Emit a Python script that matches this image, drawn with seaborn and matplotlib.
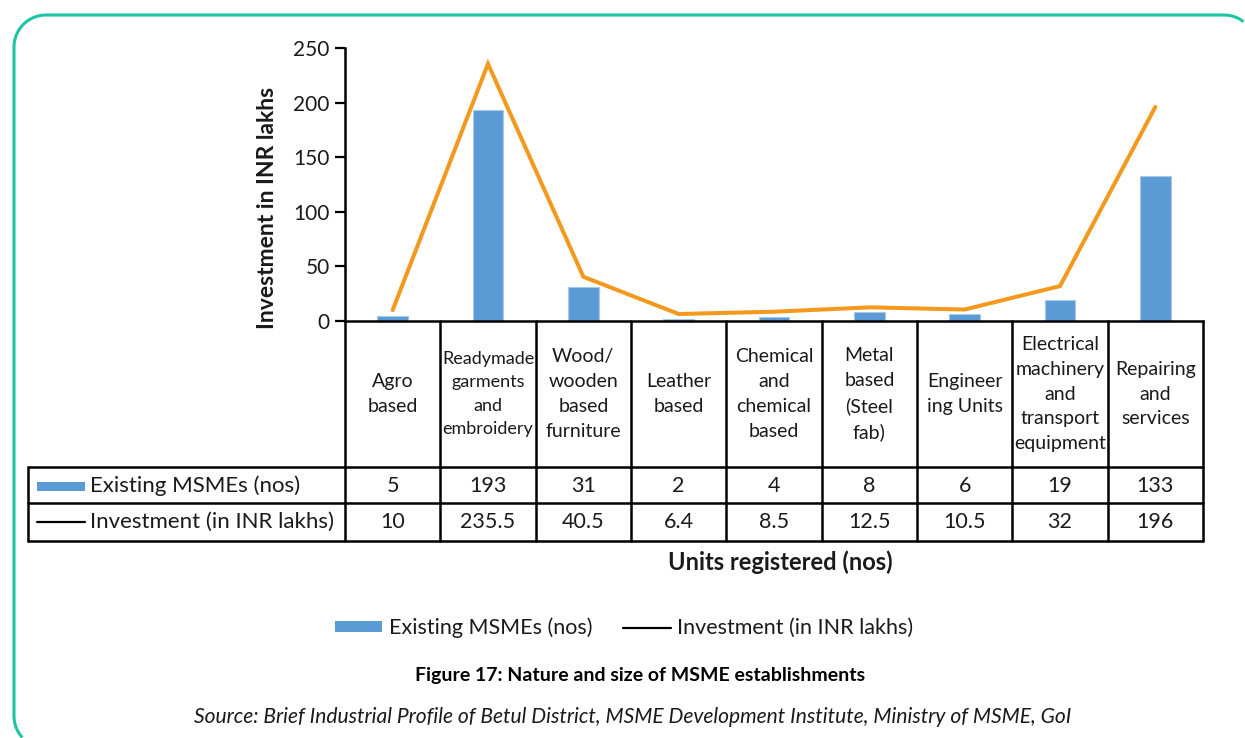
import matplotlib
matplotlib.use("Agg")
import numpy as np
import matplotlib.pyplot as plt
import matplotlib.transforms as mtransforms
from matplotlib.patches import Rectangle, Patch
from matplotlib.lines import Line2D
from matplotlib import font_manager
import seaborn as sns
import pandas as pd

# ---------------- data ----------------
categories = [
    "Agro\nbased",
    "Readymade\ngarments\nand\nembroidery",
    "Wood/\nwooden\nbased\nfurniture",
    "Leather\nbased",
    "Chemical\nand\nchemical\nbased",
    "Metal\nbased\n(Steel\nfab)",
    "Engineer\ning Units",
    "Electrical\nmachinery\nand\ntransport\nequipment",
    "Repairing\nand\nservices",
]
existing_msmes = [5, 193, 31, 2, 4, 8, 6, 19, 133]
investment = [10, 235.5, 40.5, 6.4, 8.5, 12.5, 10.5, 32, 196]
series_names = ["Existing MSMEs (nos)", "Investment (in INR lakhs)"]
y_ticks = [0, 50, 100, 150, 200, 250]
y_label = "Investment in INR lakhs"
x_label = "Units registered (nos)"
title = "Figure 17: Nature and size of MSME establishments"
source = ("Source: Brief Industrial Profile of Betul District, MSME Development "
          "Institute, Ministry of MSME, GoI")

# ---------------- style ----------------
BAR = "#5B9BD5"
LINE = "#F39A1E"
TEAL = "#1EC4A4"
TXT = "#1a1a1a"

sns.set_theme(style="white")
plt.rcParams["font.family"] = ["Lato", "DejaVu Sans"]
names = {f.name for f in font_manager.fontManager.ttflist}
narrow = "Liberation Sans Narrow" if "Liberation Sans Narrow" in names else "Lato"

W, H = 1245, 738
fig = plt.figure(figsize=(W / 100, H / 100), dpi=100)
fig.patch.set_facecolor("white")
fig.patch.set_edgecolor("white")
fig.patch.set_linewidth(0)


def fx(x):
    return x / W


def fy(y):
    return 1 - y / H


ax = fig.add_axes([fx(345), fy(321), fx(1203) - fx(345), fy(48) - fy(321)])
ax.set_facecolor("none")

df = pd.DataFrame({
    "category": categories,
    "existing": existing_msmes,
    "investment": investment,
})
df["pos"] = range(len(df))

sns.barplot(data=df, x="category", y="existing", ax=ax, color=BAR,
            width=0.32, edgecolor="#a8c8ea", linewidth=0.8, saturation=1)
sns.lineplot(data=df, x="pos", y="investment", ax=ax, color=LINE,
             linewidth=2.9, solid_capstyle="round", solid_joinstyle="miter")

ax.set_xlim(-0.5, len(categories) - 0.5)
ax.set_ylim(0, 250)
ax.set_yticks(y_ticks)
ax.set_xticks([])
ax.set_xlabel("")
ax.set_ylabel(y_label, fontsize=16.5, fontweight="bold", color=TXT, va="center")
ax.yaxis.set_label_coords((268 - 345) / 858, (321 - 208) / 273)
ax.tick_params(axis="y", direction="out", length=7, width=1.6, color="black",
               labelsize=15, labelcolor=TXT, pad=4, left=True)
for s in ["top", "right"]:
    ax.spines[s].set_visible(False)
for s in ["left", "bottom"]:
    ax.spines[s].set_color("black")
    ax.spines[s].set_linewidth(1.8)

# ---------------- data table ----------------
bt = mtransforms.blended_transform_factory(ax.transData, fig.transFigure)
lw = 1.8
n = len(categories)
for k in range(n + 1):
    fig.add_artist(Line2D([k - 0.5, k - 0.5], [fy(321), fy(541)], transform=bt,
                          color="black", lw=lw))
for yy in [467, 503, 541]:
    fig.add_artist(Line2D([fx(28), fx(1203)], [fy(yy), fy(yy)],
                          transform=fig.transFigure, color="black", lw=lw))
fig.add_artist(Line2D([fx(28), fx(28)], [fy(467), fy(541)],
                      transform=fig.transFigure, color="black", lw=lw))

header_texts = []
for i, c in enumerate(categories):
    t = fig.text(i, fy(394), c, transform=bt, ha="center", va="center",
                 multialignment="center", fontsize=14, color=TXT, linespacing=1.55)
    header_texts.append(t)
    fig.text(i, fy(486), f"{existing_msmes[i]:g}", transform=bt, ha="center",
             va="center", fontsize=15.5, color=TXT)
    fig.text(i, fy(522), f"{investment[i]:g}", transform=bt, ha="center",
             va="center", fontsize=15.5, color=TXT)

fig.add_artist(Rectangle((fx(37), fy(491)), fx(48), 9 / H, transform=fig.transFigure,
                         facecolor=BAR, edgecolor="none"))
fig.add_artist(Line2D([fx(37), fx(85)], [fy(522), fy(522)], transform=fig.transFigure,
                      color="black", lw=1.6))
fig.text(fx(90), fy(486), series_names[0], ha="left", va="center", fontsize=16, color=TXT)
fig.text(fx(90), fy(522), series_names[1], ha="left", va="center", fontsize=16, color=TXT)

fig.canvas.draw()
r = fig.canvas.get_renderer()
cell_w = ax.transData.transform((1, 0))[0] - ax.transData.transform((0, 0))[0]
for t in header_texts:
    while t.get_window_extent(r).width > cell_w - 3:
        t.set_fontsize(t.get_fontsize() - 0.25)

# ---------------- labels, legend, captions ----------------
fig.text(fx(780), fy(562), x_label, ha="center", va="center", fontsize=17,
         fontweight="bold", color=TXT)

handles = [Patch(facecolor=BAR, edgecolor="none"), Line2D([], [], color="black", lw=1.6)]
fig.legend(handles, series_names, loc="center", bbox_to_anchor=(fx(624), fy(628)),
           ncol=2, frameon=False, fontsize=15.5, handlelength=2.2, handleheight=0.45,
           handletextpad=0.3, columnspacing=1.45, labelcolor=TXT)

fig.text(fx(640), fy(676), title, ha="center", va="center", fontsize=14,
         fontweight="bold", color="black", family=narrow)
fig.text(fx(633), fy(717), source, ha="center", va="center", fontsize=15.1,
         style="italic", color=TXT)

# rounded teal frame (right and bottom sides lie beyond the canvas)
R = 32
left, top, right, bottom = 14.0, H - 15.0, 1256.0, -10.0
a2 = np.linspace(np.pi / 2, np.pi, 20)
cx_bl, cy_bl = left + R, bottom + R
a_bl1 = np.pi + np.arcsin(min(1.0, (cy_bl - 0.5) / R))
a3 = np.linspace(np.pi, a_bl1, 20)
xs = np.concatenate([[right - R], left + R + R * np.cos(a2), cx_bl + R * np.cos(a3)])
ys = np.concatenate([[top], top - R + R * np.sin(a2), cy_bl + R * np.sin(a3)])
fig.add_artist(Line2D(xs, ys, transform=mtransforms.IdentityTransform(),
                      color=TEAL, lw=2.2, solid_capstyle="butt"))
# top-right corner arc, kept strictly inside the canvas
cx_tr, cy_tr = right - R, top - R
a_tr0 = np.arccos((W - 1.5 - cx_tr) / R)
a1 = np.linspace(a_tr0, np.pi / 2, 12)
fig.add_artist(Line2D(cx_tr + R * np.cos(a1), cy_tr + R * np.sin(a1),
                      transform=mtransforms.IdentityTransform(),
                      color=TEAL, lw=2.2, solid_capstyle="butt"))

fig.savefig("out.png", dpi=100, facecolor="white", edgecolor="white")
